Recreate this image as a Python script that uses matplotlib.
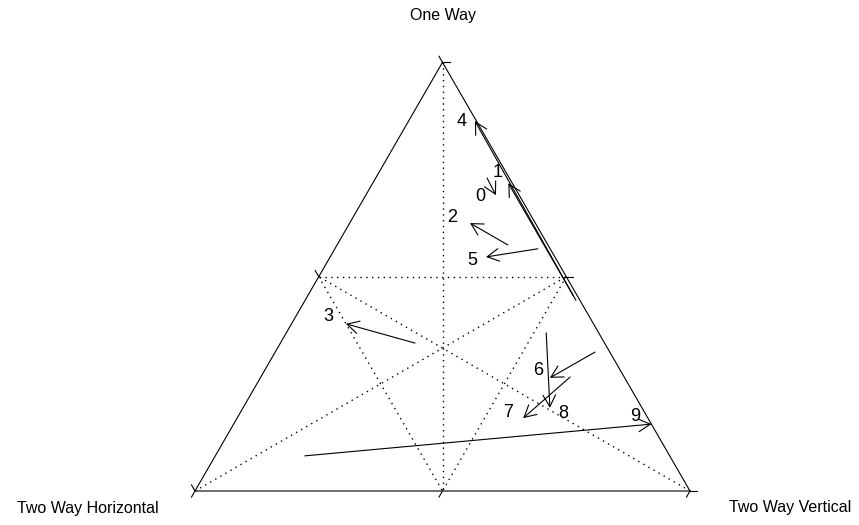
import numpy as np
import matplotlib.pyplot as plt

plt.rcParams['font.family'] = ['Liberation Sans', 'DejaVu Sans']

# corner labels: top, bottom-left, bottom-right
axis_labels = ['One Way', 'Two Way Horizontal', 'Two Way Vertical']

# arrow ids
ids = ['0', '1', '2', '3', '4', '5', '6', '7', '8', '9']

# ternary proportions (one way, two way horizontal, two way vertical)
start_one = [0.730, 0.455, 0.574, 0.345, 0.445, 0.565, 0.324, 0.266, 0.369, 0.082]
start_hor = [0.045, 0.008, 0.081, 0.383, 0.008, 0.025, 0.030, 0.109, 0.106, 0.737]
start_ver = [0.225, 0.537, 0.345, 0.272, 0.547, 0.410, 0.646, 0.625, 0.525, 0.181]

end_one = [0.690, 0.718, 0.625, 0.390, 0.863, 0.546, 0.264, 0.170, 0.194, 0.156]
end_hor = [0.047, 0.008, 0.132, 0.500, 0.003, 0.139, 0.151, 0.252, 0.186, 0.000]
end_ver = [0.263, 0.274, 0.243, 0.110, 0.134, 0.315, 0.585, 0.578, 0.620, 0.844]

label_one = [0.688, 0.742, 0.639, 0.408, 0.861, 0.537, 0.280, 0.182, 0.180, 0.173]
label_hor = [0.080, 0.017, 0.161, 0.527, 0.030, 0.171, 0.167, 0.277, 0.167, 0.024]
label_ver = [0.232, 0.241, 0.200, 0.065, 0.109, 0.292, 0.553, 0.541, 0.653, 0.803]

H = np.sqrt(3) / 2


def tern(a, b, c):
    a, b, c = np.asarray(a, float), np.asarray(b, float), np.asarray(c, float)
    s = a + b + c
    a, c = a / s, c / s
    return c + a / 2, a * H


fig = plt.figure(figsize=(8.59, 5.25), dpi=100)
ax = fig.add_axes([0, 0, 1, 1])
ax.set_xlim(-195 / 495, 664 / 495)
ax.set_ylim(-34 / 495, 491 / 495)
ax.axis('off')

# triangle
tri_x, tri_y = tern([1, 0, 0, 1], [0, 1, 0, 0], [0, 0, 1, 0])
ax.plot(tri_x, tri_y, color='black', lw=0.8)

# dotted grid: medians and the midpoint triangle
dot = dict(color='black', lw=1.0, ls=(0, (1, 3.2)))
mids = {'bot': tern(0, 0.5, 0.5), 'left': tern(0.5, 0.5, 0),
        'right': tern(0.5, 0, 0.5)}
verts = {'top': tern(1, 0, 0), 'bl': tern(0, 1, 0), 'br': tern(0, 0, 1)}
for p, q in [(verts['top'], mids['bot']), (verts['bl'], mids['right']),
             (verts['br'], mids['left']), (mids['left'], mids['right']),
             (mids['left'], mids['bot']), (mids['right'], mids['bot'])]:
    ax.plot([p[0], q[0]], [p[1], q[1]], **dot)

# tick marks at 0, .5, 1 on each side
L = 7 / 495
for t in [0, 0.5, 1]:
    x, y = tern(0, 1 - t, t)
    ax.plot([x, x - 0.5 * L], [y, y - H * L], color='black', lw=0.8)
    x, y = tern(t, 1 - t, 0)
    ax.plot([x, x - 0.5 * L], [y, y + H * L], color='black', lw=0.8)
    x, y = tern(t, 0, 1 - t)
    ax.plot([x, x + L], [y, y], color='black', lw=0.8)

# arrows
sx, sy = tern(start_one, start_hor, start_ver)
ex, ey = tern(end_one, end_hor, end_ver)
for i in range(len(ids)):
    ax.annotate('', xy=(ex[i], ey[i]), xytext=(sx[i], sy[i]),
                arrowprops=dict(arrowstyle='->,head_length=0.7,head_width=0.38',
                                mutation_scale=12, lw=0.8, color='black',
                                shrinkA=0, shrinkB=0))

lx, ly = tern(label_one, label_hor, label_ver)
for i, s in enumerate(ids):
    ax.text(lx[i], ly[i], s, fontsize=13, ha='center', va='center')

# corner labels
ax.text(0.501, 0.960, axis_labels[0], fontsize=11.5, ha='center', va='center')
ax.text(-0.217, -0.036, axis_labels[1], fontsize=11.5, ha='center', va='center')
ax.text(1.202, -0.034, axis_labels[2], fontsize=11.5, ha='center', va='center')

fig.savefig('out.png', dpi=100)
